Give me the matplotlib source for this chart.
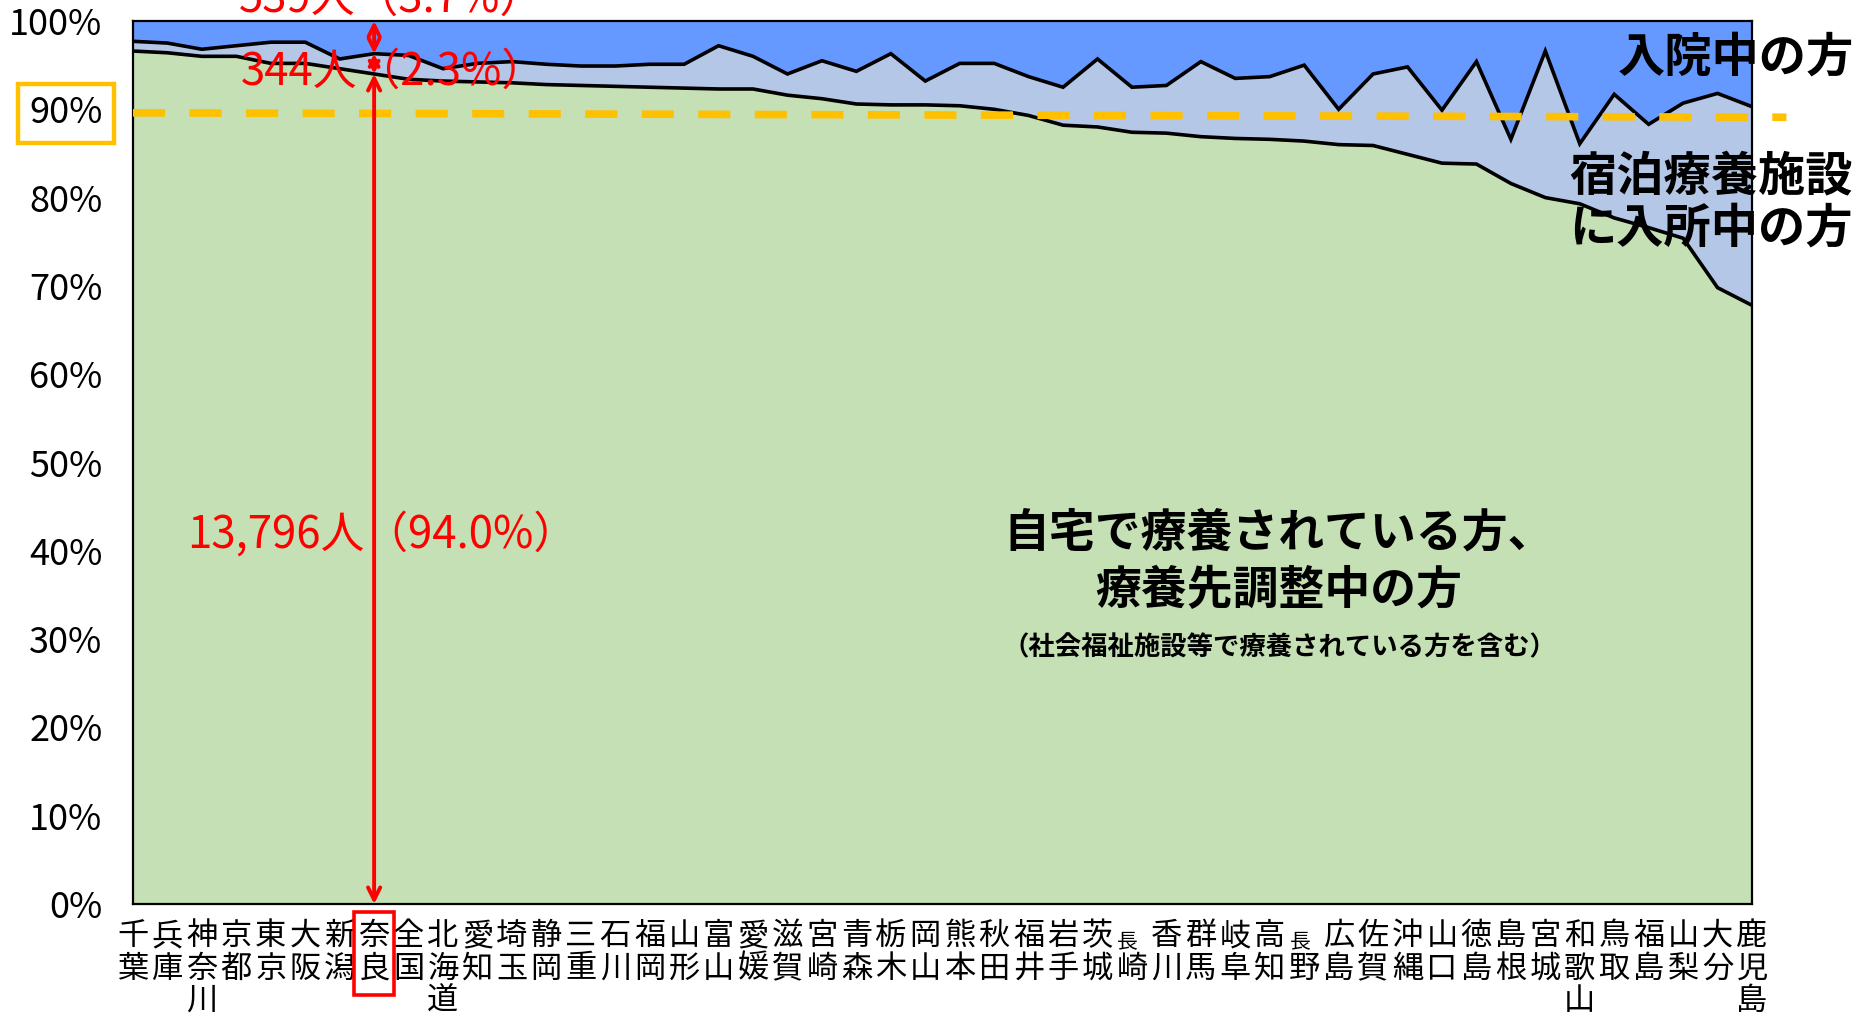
import matplotlib
matplotlib.use("Agg")
import matplotlib.pyplot as plt
from matplotlib.patches import Rectangle
from matplotlib.transforms import blended_transform_factory
import numpy as np

plt.rcParams['font.family'] = ['Noto Sans CJK JP', 'DejaVu Sans']

# ---------------- data ----------------
prefectures = ["千葉", "兵庫", "神奈川", "京都", "東京", "大阪", "新潟", "奈良", "全国",
               "北海道", "愛知", "埼玉", "静岡", "三重", "石川", "福岡", "山形", "富山",
               "愛媛", "滋賀", "宮崎", "青森", "栃木", "岡山", "熊本", "秋田", "福井",
               "岩手", "茨城", "長崎", "香川", "群馬", "岐阜", "高知", "長野", "広島",
               "佐賀", "沖縄", "山口", "徳島", "島根", "宮城", "和歌山", "鳥取", "福島",
               "山梨", "大分", "鹿児島"]

# percent of patients (home / accommodation facility / hospital)
home = [96.6, 96.4, 96.0, 96.0, 95.2, 95.2, 94.6, 94.0, 93.4, 93.2, 93.1, 93.0,
        92.8, 92.7, 92.6, 92.5, 92.4, 92.3, 92.3, 91.6, 91.2, 90.6, 90.5, 90.5,
        90.4, 90.0, 89.3, 88.2, 88.0, 87.4, 87.3, 86.9, 86.7, 86.6, 86.4, 86.0,
        85.9, 84.9, 83.9, 83.8, 81.6, 80.0, 79.3, 77.7, 76.6, 75.4, 69.8, 67.8]
facility = [1.1, 1.1, 0.8, 1.2, 2.4, 2.4, 1.1, 2.3, 2.7, 1.4, 2.1, 2.4,
            2.3, 2.2, 2.3, 2.6, 2.7, 4.9, 3.7, 2.4, 4.3, 3.7, 5.8, 2.7,
            4.8, 5.2, 4.4, 4.3, 7.7, 5.1, 5.4, 8.5, 6.8, 7.1, 8.6, 4.0,
            8.1, 9.9, 6.0, 11.6, 5.0, 16.6, 6.8, 14.0, 11.7, 15.3, 22.0, 22.5]
hospital = [2.3, 2.5, 3.2, 2.8, 2.4, 2.4, 4.3, 3.7, 3.9, 5.4, 4.8, 4.6,
            4.9, 5.1, 5.1, 4.9, 4.9, 2.8, 4.0, 6.0, 4.5, 5.7, 3.7, 6.8,
            4.8, 4.8, 6.3, 7.5, 4.3, 7.5, 7.3, 4.6, 6.5, 6.3, 5.0, 10.0,
            6.0, 5.2, 10.1, 4.6, 13.4, 3.4, 13.9, 8.3, 11.7, 9.3, 8.2, 9.7]

y_ticks = [0, 10, 20, 30, 40, 50, 60, 70, 80, 90, 100]
y_tick_labels = [f"{t}%" for t in y_ticks]

highlight = "奈良"
nara_counts = ["13,796人（94.0%）", "344人（2.3%）", "539人（3.7%）"]
target_line = [89.6, 89.1]   # dashed 90% guide (slightly tilted in the original)

# ---------------- figure ----------------
W, H = 1862, 1018
fig = plt.figure(figsize=(W / 100, H / 100), dpi=100)
ax = fig.add_axes([133 / W, 1 - 904 / H, (1752 - 133) / W, (904 - 21) / H])

x = np.arange(len(prefectures))
ax.stackplot(x, home, facility, hospital,
             colors=['#C5E0B4', '#B4C7E7', '#6699FF'], linewidth=0, zorder=1)
lower = np.array(home)
upper = lower + np.array(facility)
ax.plot(x, lower, color='black', lw=2.6, zorder=3, solid_joinstyle='miter')
ax.plot(x, upper, color='black', lw=2.6, zorder=3, solid_joinstyle='miter')

ax.set_xlim(0, len(prefectures) - 1)
ax.set_ylim(0, 100)
for s in ax.spines.values():
    s.set_color('black')
    s.set_linewidth(1.6)
    s.set_zorder(4)

ax.set_yticks(y_ticks)
ax.set_yticklabels(y_tick_labels, fontsize=26)
ax.tick_params(axis='y', length=0, pad=22)
ax.set_xticks([])

# yellow box around the 90% label
for lbl in ax.get_yticklabels():
    if lbl.get_text() == "90%":
        lbl.set_bbox(dict(boxstyle='square,pad=0.32', fc='white', ec='#FFC000', lw=3.2))

# x labels written vertically
tr = blended_transform_factory(ax.transData, ax.transAxes)
row0 = -(936 - 904) / 883
row_step = 32.5 / 883
for i, name in enumerate(prefectures):
    for j, ch in enumerate(name):
        if name.startswith("長") and j == 0:
            ax.text(i - 0.12, row0 - 0.18 * row_step, ch, transform=tr, fontsize=15,
                    ha='center', va='center', clip_on=False)
        else:
            ax.text(i, row0 - j * row_step, ch, transform=tr, fontsize=22.5,
                    ha='center', va='center', clip_on=False)

# red box around highlighted label
hi = prefectures.index(highlight)
ax.add_patch(Rectangle((hi - 0.57, -0.103), 1.14, 0.094, transform=tr, fill=False,
                       ec='red', lw=2.6, clip_on=False, zorder=6))

# dashed guide line
ax.plot([0, len(prefectures)], target_line, color='#FFC000', lw=5.5,
        linestyle=(0, (4.2, 3.2)), dash_capstyle='butt', clip_on=False, zorder=5)

# red arrows for the highlighted prefecture
h_home = home[hi]
h_up = home[hi] + facility[hi]
arrow_kw = dict(arrowstyle='<->', color='red', lw=2.8, mutation_scale=22,
                shrinkA=0, shrinkB=0)
ax.annotate('', xy=(hi, 0), xytext=(hi, h_home), arrowprops=arrow_kw, zorder=7,
            annotation_clip=False)
ax.annotate('', xy=(hi, h_home), xytext=(hi, h_up), arrowprops=dict(arrow_kw, mutation_scale=16),
            zorder=7, annotation_clip=False)
ax.annotate('', xy=(hi, h_up), xytext=(hi, 100), arrowprops=dict(arrow_kw, mutation_scale=20),
            zorder=7, annotation_clip=False)

ax.text(hi + 0.22, 41.8, nara_counts[0], color='red', fontsize=31.5, ha='center', va='center', zorder=8)
ax.text(hi + 0.55, 94.2, nara_counts[1], color='red', fontsize=31.5, ha='center', va='center', zorder=8)
ax.text(hi + 0.5, 102.5, nara_counts[2], color='red', fontsize=31.5, ha='center', va='center',
        zorder=8, clip_on=False)

# category captions
ax.text(43.1, 95.9, "入院中の方", fontsize=34, fontweight='bold', ha='left', va='center',
        clip_on=False, zorder=8)
ax.text(41.7, 82.4, "宿泊療養施設", fontsize=34, fontweight='bold', ha='left', va='center',
        clip_on=False, zorder=8)
ax.text(41.7, 76.5, "に入所中の方", fontsize=34, fontweight='bold', ha='left', va='center',
        clip_on=False, zorder=8)
ax.text(33.27, 41.9, "自宅で療養されている方、", fontsize=33, fontweight='bold',
        ha='center', va='center', zorder=8)
ax.text(33.27, 35.4, "療養先調整中の方", fontsize=33, fontweight='bold',
        ha='center', va='center', zorder=8)
ax.text(33.27, 29.0, "（社会福祉施設等で療養されている方を含む）", fontsize=19, fontweight='bold',
        ha='center', va='center', zorder=8)

fig.savefig("out.png", dpi=100)
